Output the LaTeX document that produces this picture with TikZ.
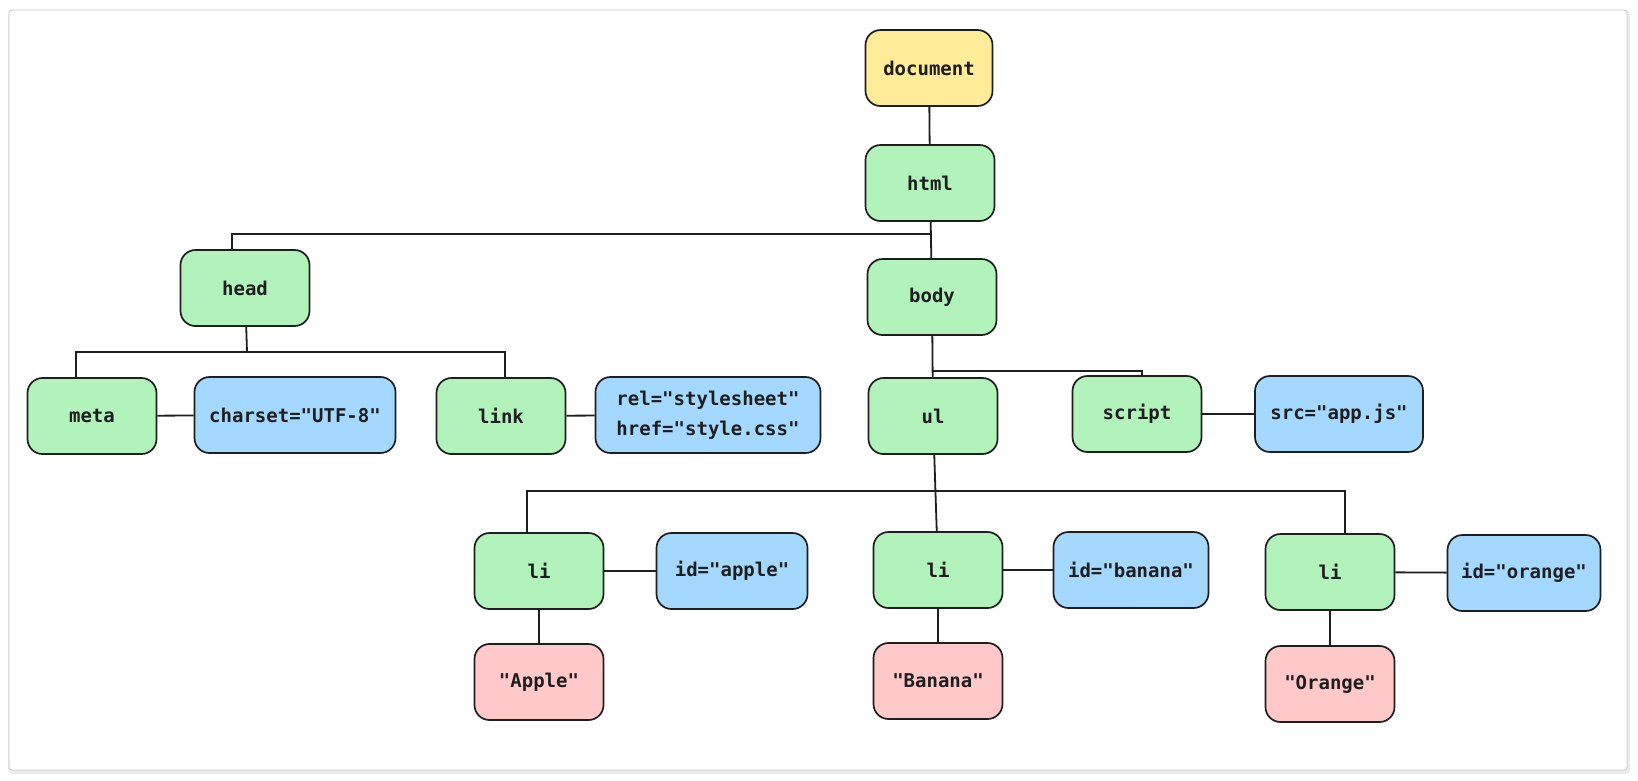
\documentclass[tikz,border=0pt]{standalone}
\usepackage{fontspec}
\setmonofont{DejaVu Sans Mono}
\usepackage{xcolor}
\definecolor{ink}{HTML}{1E1E1E}
\definecolor{rootfill}{HTML}{FFEC99}
\definecolor{tagfill}{HTML}{B2F2BB}
\definecolor{attrfill}{HTML}{A5D8FF}
\definecolor{txtfill}{HTML}{FFC9C9}

\begin{document}
\begin{tikzpicture}[
    x=1pt, y=-1pt,
    base/.style={draw=ink, line width=1.7pt, rounded corners=15pt, minimum height=76pt, inner sep=4pt,
        font=\ttfamily\bfseries\fontsize{19}{30}\selectfont, align=center, text=ink},
    root/.style={base, fill=rootfill, minimum width=127pt},
    tag/.style={base, fill=tagfill, minimum width=129pt},
    attr/.style={base, fill=attrfill},
    txt/.style={base, fill=txtfill, minimum width=129pt},
    wire/.style={draw=ink, line width=1.8pt}
]
\useasboundingbox (0,0) rectangle (1638,780);
% card
\draw[black!8, line width=4pt, rounded corners=3pt] (10,12) rectangle (1628,772);
\draw[black!22, fill=white, line width=0.8pt, rounded corners=3pt] (9,10) rectangle (1627,770);

% tree
\node[root] (document) at (929,68) {document};
\node[tag] (html) at (930,183) {html};
\node[tag] (head) at (245,288) {head};
\node[tag] (body) at (932,297) {body};

\node[tag] (meta) at (92,416) {meta};
\node[attr, minimum width=201pt] (charset) at (295,415) {charset="UTF-8"};
\node[tag] (link) at (501,416) {link};
\node[attr, minimum width=225pt] (rel) at (708,415) {rel="stylesheet"\\href="style.css"};

\node[tag] (ul) at (933,416) {ul};
\node[tag] (script) at (1137,414) {script};
\node[attr, minimum width=168pt] (src) at (1339,414) {src="app.js"};

\node[tag] (li1) at (539,571) {li};
\node[attr, minimum width=151pt] (apple) at (732,571) {id="apple"};
\node[tag] (li2) at (938,570) {li};
\node[attr, minimum width=155pt] (banana) at (1131,570) {id="banana"};
\node[tag] (li3) at (1330,572) {li};
\node[attr, minimum width=153pt] (orange) at (1524,573) {id="orange"};

\node[txt] (applet) at (539,682) {"Apple"};
\node[txt] (bananat) at (938,681) {"Banana"};
\node[txt] (oranget) at (1330,684) {"Orange"};

% bus points
\coordinate (htmlbus) at (931,234);
\coordinate (headbus) at (247,352);
\coordinate (bodybus) at (933,371);
\coordinate (ulbus) at (935,491);

% connectors
\draw[wire] (document) -- (html);
\draw[wire] (html) -- (body);
\draw[wire] ([xshift=-13pt]head.north) |- (htmlbus);
\draw[wire] (head) -- (headbus);
\draw[wire] ([xshift=-16pt]meta.north) |- (headbus) -| ([xshift=4pt]link.north);
\draw[wire] (meta) -- (charset);
\draw[wire] (link) -- (rel);
\draw[wire] (body) -- (ul);
\draw[wire] (bodybus) -| ([xshift=5pt]script.north);
\draw[wire] (script) -- (src);
\draw[wire] (ul) -- (li2);
\draw[wire] ([xshift=-12pt]li1.north) |- (ulbus) -| ([xshift=15pt]li3.north);
\draw[wire] (li1) -- (apple);
\draw[wire] (li2) -- (banana);
\draw[wire] (li3) -- (orange);
\draw[wire] (li1) -- (applet);
\draw[wire] (li2) -- (bananat);
\draw[wire] (li3) -- (oranget);
\end{tikzpicture}
\end{document}
